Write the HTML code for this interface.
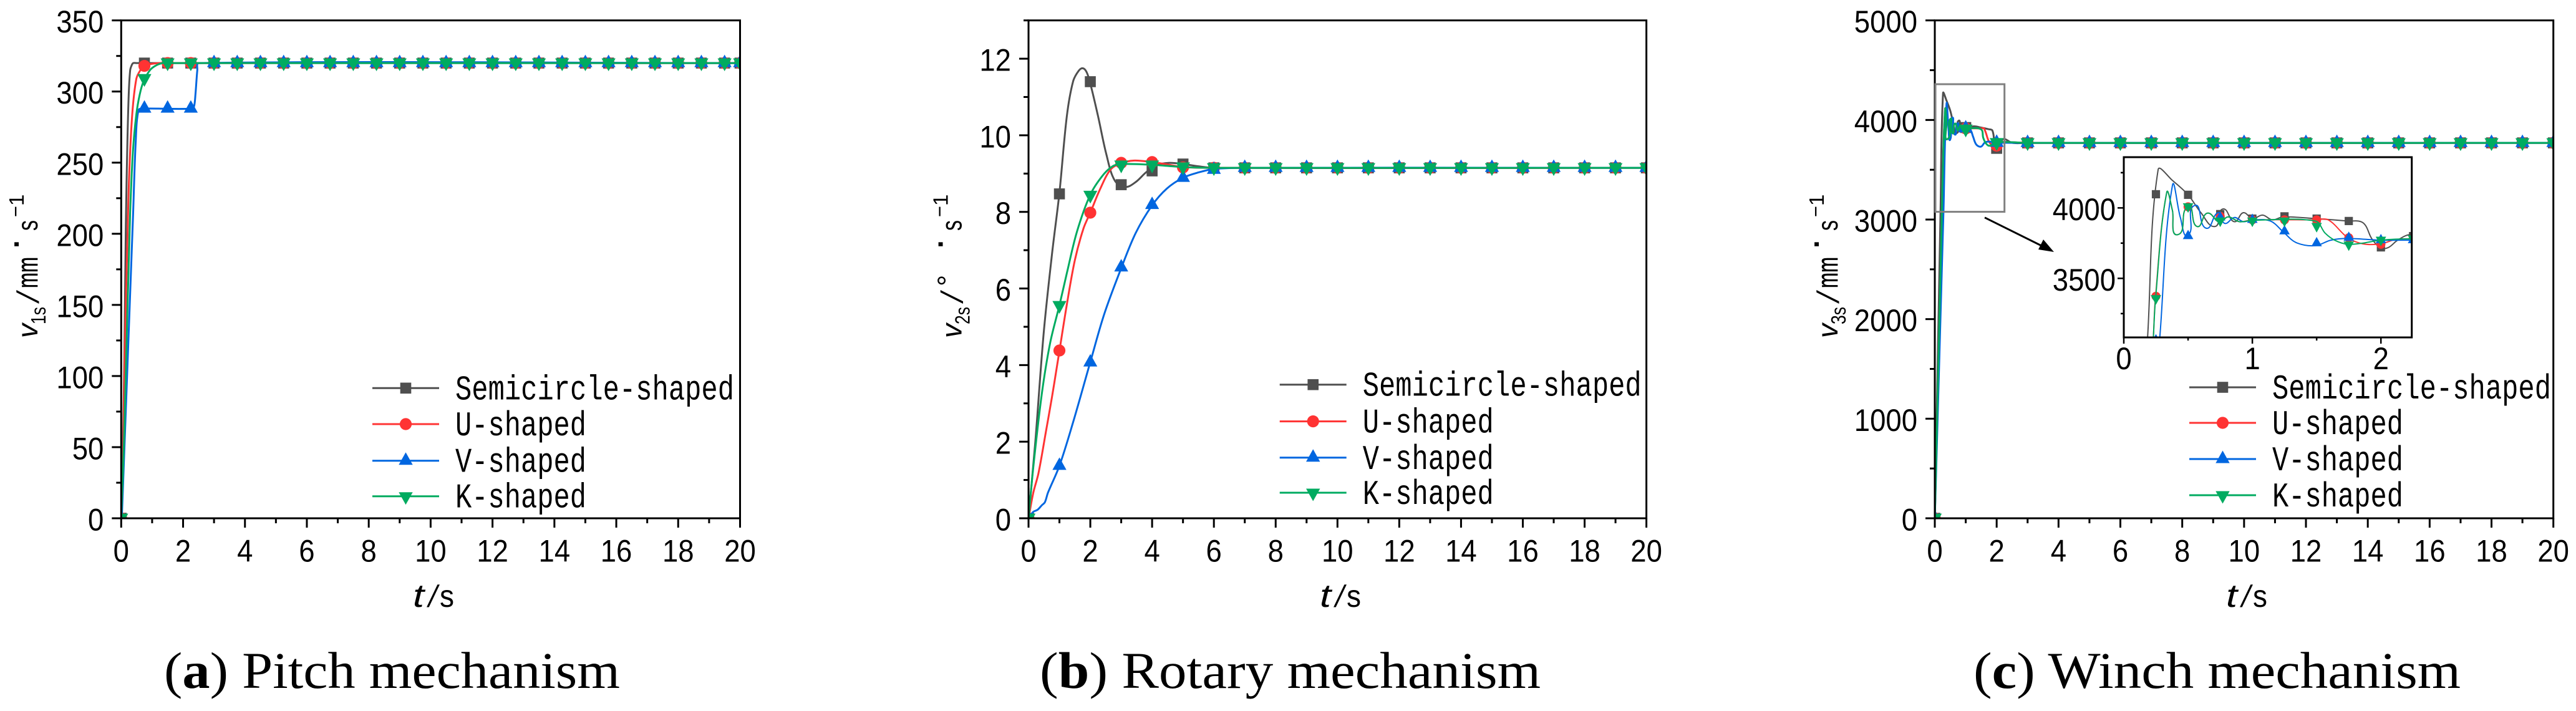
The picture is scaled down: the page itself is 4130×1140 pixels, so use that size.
<!DOCTYPE html>
<html lang="en">
<head>
<meta charset="utf-8">
<title>Velocity response of pitch, rotary and winch mechanisms</title>
<style>
html,body{margin:0;padding:0;background:#fff;}
body{width:4130px;height:1140px;overflow:hidden;}
svg{display:block;}
text{font-family:"Liberation Sans",sans-serif;fill:#000;}
.lg{font-family:"Liberation Mono",monospace;font-size:56px;}
.yt{font-size:46px;}
.sb{font-size:33px;}
.thick{stroke:#000;stroke-width:0.7px;}
.sl{font-family:"Liberation Serif",serif;font-size:54px;}
.cap{font-family:"Liberation Serif",serif;font-size:83px;}
</style>
</head>
<body>
<svg id="figure" xmlns="http://www.w3.org/2000/svg" width="4130" height="1140" viewBox="0 0 4130 1140">
<rect x="0" y="0" width="4130" height="1140" fill="#fff"/>
<g id="chart-a"></g>
<g id="chart-b"></g>
<g id="chart-c"></g>

<!-- y axis titles -->
<g transform="translate(60,542) rotate(-90)">
<text class="yt" font-style="italic" x="0" y="0">v</text>
<text class="sb" x="22" y="13" textLength="28" lengthAdjust="spacingAndGlyphs">1s</text>
<text class="sl" x="55" y="2" textLength="22" lengthAdjust="spacingAndGlyphs">/</text>
<text class="yt thick" x="80" y="0" textLength="50" lengthAdjust="spacingAndGlyphs">mm</text>
<text class="yt" font-weight="bold" x="144" y="-18">·</text>
<text class="yt" x="172" y="0" textLength="17" lengthAdjust="spacingAndGlyphs">s</text>
<text class="sb" x="194" y="-24" textLength="18" lengthAdjust="spacingAndGlyphs">−</text>
<text class="sb" x="212" y="-22">1</text>
</g>
<g transform="translate(1541.7,542) rotate(-90)">
<text class="yt" font-style="italic" x="0" y="0">v</text>
<text class="sb" x="22" y="13" textLength="28" lengthAdjust="spacingAndGlyphs">2s</text>
<text class="sl" x="55" y="2" textLength="22" lengthAdjust="spacingAndGlyphs">/</text>
<text class="yt" x="83" y="-6">°</text>
<text class="yt" font-weight="bold" x="144" y="-18">·</text>
<text class="yt" x="172" y="0" textLength="17" lengthAdjust="spacingAndGlyphs">s</text>
<text class="sb" x="194" y="-24" textLength="18" lengthAdjust="spacingAndGlyphs">−</text>
<text class="sb" x="212" y="-22">1</text>
</g>
<g transform="translate(2946,542) rotate(-90)">
<text class="yt" font-style="italic" x="0" y="0">v</text>
<text class="sb" x="22" y="13" textLength="28" lengthAdjust="spacingAndGlyphs">3s</text>
<text class="sl" x="55" y="2" textLength="22" lengthAdjust="spacingAndGlyphs">/</text>
<text class="yt thick" x="80" y="0" textLength="50" lengthAdjust="spacingAndGlyphs">mm</text>
<text class="yt" font-weight="bold" x="144" y="-18">·</text>
<text class="yt" x="172" y="0" textLength="17" lengthAdjust="spacingAndGlyphs">s</text>
<text class="sb" x="194" y="-24" textLength="18" lengthAdjust="spacingAndGlyphs">−</text>
<text class="sb" x="212" y="-22">1</text>
</g>

<!-- x axis titles -->
<g transform="translate(660,973)">
<text font-size="52" font-style="italic" x="2" y="0" textLength="18" lengthAdjust="spacingAndGlyphs">t</text>
<text class="sl" x="24" y="0" textLength="21" lengthAdjust="spacingAndGlyphs">/</text>
<text font-size="50" x="45" y="0" textLength="23" lengthAdjust="spacingAndGlyphs">s</text>
</g>
<g transform="translate(2114,973)">
<text font-size="52" font-style="italic" x="2" y="0" textLength="18" lengthAdjust="spacingAndGlyphs">t</text>
<text class="sl" x="24" y="0" textLength="21" lengthAdjust="spacingAndGlyphs">/</text>
<text font-size="50" x="45" y="0" textLength="23" lengthAdjust="spacingAndGlyphs">s</text>
</g>
<g transform="translate(3567,973)">
<text font-size="52" font-style="italic" x="2" y="0" textLength="18" lengthAdjust="spacingAndGlyphs">t</text>
<text class="sl" x="24" y="0" textLength="21" lengthAdjust="spacingAndGlyphs">/</text>
<text font-size="50" x="45" y="0" textLength="23" lengthAdjust="spacingAndGlyphs">s</text>
</g>

<!-- legends -->
<g transform="translate(597,0)">
<g transform="translate(0,622.3)"><line x1="0" x2="107" stroke="#4f4f4f" stroke-width="3"/><rect x="44.7" y="-8.8" width="17.6" height="17.6" fill="#4f4f4f"/><text class="lg" x="133" y="18" textLength="447" lengthAdjust="spacingAndGlyphs">Semicircle-shaped</text></g>
<g transform="translate(0,680)"><line x1="0" x2="107" stroke="#ff3333" stroke-width="3"/><circle cx="53.5" cy="0" r="9.6" fill="#ff3333"/><text class="lg" x="133" y="18" textLength="210" lengthAdjust="spacingAndGlyphs">U-shaped</text></g>
<g transform="translate(0,738.7)"><line x1="0" x2="107" stroke="#0066e0" stroke-width="3"/><polygon points="53.5,-13.5 64.7,6.5 42.3,6.5" fill="#0066e0"/><text class="lg" x="133" y="18" textLength="210" lengthAdjust="spacingAndGlyphs">V-shaped</text></g>
<g transform="translate(0,795.7)"><line x1="0" x2="107" stroke="#00ab60" stroke-width="3"/><polygon points="53.5,13.5 64.7,-6.5 42.3,-6.5" fill="#00ab60"/><text class="lg" x="133" y="18" textLength="210" lengthAdjust="spacingAndGlyphs">K-shaped</text></g>
</g>
<g transform="translate(2051.7,0)">
<g transform="translate(0,616.7)"><line x1="0" x2="107" stroke="#4f4f4f" stroke-width="3"/><rect x="44.7" y="-8.8" width="17.6" height="17.6" fill="#4f4f4f"/><text class="lg" x="133" y="18" textLength="447" lengthAdjust="spacingAndGlyphs">Semicircle-shaped</text></g>
<g transform="translate(0,675.6)"><line x1="0" x2="107" stroke="#ff3333" stroke-width="3"/><circle cx="53.5" cy="0" r="9.6" fill="#ff3333"/><text class="lg" x="133" y="18" textLength="210" lengthAdjust="spacingAndGlyphs">U-shaped</text></g>
<g transform="translate(0,733.8)"><line x1="0" x2="107" stroke="#0066e0" stroke-width="3"/><polygon points="53.5,-13.5 64.7,6.5 42.3,6.5" fill="#0066e0"/><text class="lg" x="133" y="18" textLength="210" lengthAdjust="spacingAndGlyphs">V-shaped</text></g>
<g transform="translate(0,790)"><line x1="0" x2="107" stroke="#00ab60" stroke-width="3"/><polygon points="53.5,13.5 64.7,-6.5 42.3,-6.5" fill="#00ab60"/><text class="lg" x="133" y="18" textLength="210" lengthAdjust="spacingAndGlyphs">K-shaped</text></g>
</g>
<g transform="translate(3510,0)">
<g transform="translate(0,621)"><line x1="0" x2="107" stroke="#4f4f4f" stroke-width="3"/><rect x="44.7" y="-8.8" width="17.6" height="17.6" fill="#4f4f4f"/><text class="lg" x="133" y="18" textLength="447" lengthAdjust="spacingAndGlyphs">Semicircle-shaped</text></g>
<g transform="translate(0,678)"><line x1="0" x2="107" stroke="#ff3333" stroke-width="3"/><circle cx="53.5" cy="0" r="9.6" fill="#ff3333"/><text class="lg" x="133" y="18" textLength="210" lengthAdjust="spacingAndGlyphs">U-shaped</text></g>
<g transform="translate(0,736)"><line x1="0" x2="107" stroke="#0066e0" stroke-width="3"/><polygon points="53.5,-13.5 64.7,6.5 42.3,6.5" fill="#0066e0"/><text class="lg" x="133" y="18" textLength="210" lengthAdjust="spacingAndGlyphs">V-shaped</text></g>
<g transform="translate(0,794)"><line x1="0" x2="107" stroke="#00ab60" stroke-width="3"/><polygon points="53.5,13.5 64.7,-6.5 42.3,-6.5" fill="#00ab60"/><text class="lg" x="133" y="18" textLength="210" lengthAdjust="spacingAndGlyphs">K-shaped</text></g>
</g>

<!-- zoom region and arrow in chart c -->
<rect x="3103" y="135" width="110.7" height="204.6" fill="none" stroke="#808080" stroke-width="3"/>
<line x1="3182" y1="348.8" x2="3275" y2="395" stroke="#000" stroke-width="3"/>
<polygon points="3293,404 3268,400 3276,384" fill="#000"/>
<g id="inset"></g>

<!-- captions -->
<text class="cap" x="263" y="1103" textLength="731" lengthAdjust="spacingAndGlyphs">(<tspan font-weight="bold">a</tspan>) Pitch mechanism</text>
<text class="cap" x="1667" y="1103" textLength="803" lengthAdjust="spacingAndGlyphs">(<tspan font-weight="bold">b</tspan>) Rotary mechanism</text>
<text class="cap" x="3164" y="1103" textLength="781" lengthAdjust="spacingAndGlyphs">(<tspan font-weight="bold">c</tspan>) Winch mechanism</text>
</svg>

<script>
// ---------- shared tick values ----------
const xMajorTicks = [0,2,4,6,8,10,12,14,16,18,20];
const xMinorTicks = [1,3,5,7,9,11,13,15,17,19];

// ---------- chart (a) pitch mechanism ----------
const aYMajor = [0,50,100,150,200,250,300,350];
const aYMinor = [25,75,125,175,225,275,325];
const aMarkT = [0,0.75,1.5,2.25,3,3.75,4.5,5.25,6,6.75,7.5,8.25,9,9.75,10.5,11.25,12,12.75,13.5,14.25,15,15.75,16.5,17.25,18,18.75,19.5,20];
const aMarkS = [0,320,320,320,320,320,320,320,320,320,320,320,320,320,320,320,320,320,320,320,320,320,320,320,320,320,320,320];
const aMarkU = [0,318,320,320,320,320,320,320,320,320,320,320,320,320,320,320,320,320,320,320,320,320,320,320,320,320,320,320];
const aMarkV = [0,288,288,288,320,320,320,320,320,320,320,320,320,320,320,320,320,320,320,320,320,320,320,320,320,320,320,320];
const aMarkK = [0,309,320,320,320,320,320,320,320,320,320,320,320,320,320,320,320,320,320,320,320,320,320,320,320,320,320,320];
const aLineTS = [0,0.05,0.1,0.15,0.19,0.24,0.29,0.34,0.39,0.5,20];
const aLineVS = [0,40,110,205,254,296,315,318.5,320,320,320];
const aLineTU = [0,0.06,0.12,0.19,0.256,0.357,0.49,0.62,0.75,1,1.33,20];
const aLineVU = [0,40,120,185,240,284,309,315,318,319.5,320,320];
const aLineTV = [0,0.02,0.38,0.47,0.56,0.7,2.3,2.36,2.4,2.46,2.5,20];
const aLineVV = [0,0,211,265,287,288,288,290,298,315,320,320];
const aLineTK = [0,0.1,0.2,0.288,0.38,0.49,0.6,0.72,0.93,1.1,1.33,1.6,20];
const aLineVK = [0,60,145,214,258,284,298,307,315,318,320,320,320];

// ---------- chart (b) rotary mechanism ----------
const bYMajor = [0,2,4,6,8,10,12];
const bYMinor = [1,3,5,7,9,11,13];
const bMarkT = [0,1,2,3,4,5,6,7,8,9,10,11,12,13,14,15,16,17,18,19,20];
const bMarkS = [0,8.47,11.4,8.71,9.07,9.25,9.15,9.15,9.15,9.15,9.15,9.15,9.15,9.15,9.15,9.15,9.15,9.15,9.15,9.15,9.15];
const bMarkU = [0,4.38,7.98,9.28,9.3,9.16,9.15,9.15,9.15,9.15,9.15,9.15,9.15,9.15,9.15,9.15,9.15,9.15,9.15,9.15,9.15];
const bMarkV = [0,1.37,4.07,6.55,8.18,8.89,9.1,9.15,9.15,9.15,9.15,9.15,9.15,9.15,9.15,9.15,9.15,9.15,9.15,9.15,9.15];
const bMarkK = [0,5.55,8.43,9.22,9.22,9.17,9.15,9.15,9.15,9.15,9.15,9.15,9.15,9.15,9.15,9.15,9.15,9.15,9.15,9.15,9.15];
const bLineTS = [0,0.22,0.49,0.76,1,1.24,1.44,1.62,1.76,1.88,2,2.25,2.52,2.79,3.13,3.47,3.8,4.14,4.55,5,5.5,6,20];
const bLineVS = [0,2,4.83,6.9,8.5,10.5,11.4,11.68,11.75,11.65,11.35,10.5,9.5,8.82,8.65,8.78,9.03,9.22,9.28,9.25,9.19,9.15,9.15];
const bLineTU = [0,0.155,0.32,0.56,0.76,1,1.24,1.5,1.78,2,2.32,2.66,3,3.4,4,4.55,5,6,20];
const bLineVU = [0,0.67,1.17,2.25,3.17,4.37,5.58,6.74,7.57,7.98,8.6,9.11,9.27,9.34,9.3,9.23,9.17,9.15,9.15];
const bLineTV = [0,0.155,0.29,0.43,0.53,0.63,1,1.44,2,2.45,3,3.47,4,4.48,5,5.5,6,7,20];
const bLineVV = [0,0.17,0.22,0.34,0.42,0.67,1.37,2.5,4.08,5.33,6.53,7.45,8.17,8.61,8.89,9.03,9.12,9.15,9.15];
const bLineTK = [0,0.155,0.43,0.7,1,1.24,1.57,2,2.39,2.72,3,4,5,6,20];
const bLineVK = [0,1.34,3.25,4.58,5.56,6.4,7.49,8.45,8.94,9.19,9.25,9.23,9.17,9.15,9.15];

// ---------- chart (c) winch mechanism ----------
const cYMajor = [0,1000,2000,3000,4000,5000];
const cYMinor = [500,1500,2500,3500,4500];
const cMarkT = [0,1,2,3,4,5,6,7,8,9,10,11,12,13,14,15,16,17,18,19,20];
const cMarkS = [0,3924,3715,3770,3770,3770,3770,3770,3770,3770,3770,3770,3770,3770,3770,3770,3770,3770,3770,3770,3770];
const cMarkU = [0,3915,3742,3770,3770,3770,3770,3770,3770,3770,3770,3770,3770,3770,3770,3770,3770,3770,3770,3770,3770];
const cMarkV = [0,3915,3771,3770,3770,3770,3770,3770,3770,3770,3770,3770,3770,3770,3770,3770,3770,3770,3770,3770,3770];
const cMarkK = [0,3907,3771,3770,3770,3770,3770,3770,3770,3770,3770,3770,3770,3770,3770,3770,3770,3770,3770,3770,3770];
const cLineTS = [0,0.185,0.267,0.378,0.5,0.6,0.71,0.77,0.86,0.93,1,1.08,1.155,1.24,1.49,1.74,1.86,1.93,2,2.06,2.13,2.23,2.5,3,20];
const cLineVS = [0,3081,4271,4195,4093,3966,3868,3992,3902,3966,3924,3949,3915,3936,3924,3907,3895,3780,3715,3720,3771,3810,3770,3770,3770];
const cLineTU = [0,0.23,0.247,0.334,0.378,0.42,0.5,0.57,0.65,0.745,0.81,0.9,1,1.49,1.59,1.74,1.86,2,2.11,2.23,3,20];
const cLineVU = [0,3081,3373,4110,3983,3810,4008,3868,3963,3898,3936,3902,3915,3915,3915,3790,3745,3745,3775,3780,3770,3770];
const cLineTV = [0,0.28,0.378,0.44,0.5,0.55,0.64,0.735,0.785,0.86,0.93,1,1.14,1.24,1.34,1.49,1.61,1.74,2,2.23,3,20];
const cLineVV = [0,3081,4158,3932,3805,4017,3856,3966,3890,3932,3902,3915,3907,3830,3754,3732,3771,3783,3771,3771,3770,3770];
const cLineTK = [0,0.23,0.247,0.334,0.378,0.42,0.5,0.57,0.65,0.745,0.81,0.9,1,1.49,1.565,1.64,1.74,1.85,2,2.23,3,20];
const cLineVK = [0,3081,3356,4110,3983,3810,4008,3868,3963,3898,3936,3902,3912,3907,3822,3771,3742,3749,3771,3780,3770,3770];

// ---------- inset of chart (c) ----------
const insetYMajor = [3500,4000];
const insetYMinor = [3250,3750,4250];
const insetXMajor = [0,1,2];
const insetXMinor = [0.5,1.5];
const insetMarkT = [0.25,0.5,0.75,1,1.25,1.5,1.75,2,2.25];
const insetMarkS = [4097,4093,3956,3924,3940,3924,3907,3720,3800];
const insetMarkU = [3373,4008,3940,3915,3915,3915,3788,3742,3780];
const insetMarkV = [3060,3800,3932,3915,3834,3749,3788,3771,3771];
const insetMarkK = [3356,4008,3907,3907,3907,3868,3737,3771,3780];

const GREY = '#4f4f4f', RED = '#ff3333', BLUE = '#0066e0', GREEN = '#00ab60';
const NS = 'http://www.w3.org/2000/svg';

function make(tag, parent) {
  const el = document.createElementNS(NS, tag);
  parent.appendChild(el);
  return el;
}

function linearScale(d0, d1, r0, r1) {
  return function (v) { return r0 + (v - d0) * (r1 - r0) / (d1 - d0); };
}

// chord-length cardinal spline through the data points
function curvePath(ts, vs, sx, sy) {
  const p = ts.map(function (t, i) { return [sx(t), sy(vs[i])]; });
  let d = 'M' + p[0][0].toFixed(2) + ' ' + p[0][1].toFixed(2);
  for (let i = 0; i < p.length - 1; i++) {
    const a = p[Math.max(i - 1, 0)], b = p[i], c = p[i + 1], e = p[Math.min(i + 2, p.length - 1)];
    const len = Math.hypot(c[0] - b[0], c[1] - b[1]);
    const l1 = Math.hypot(c[0] - a[0], c[1] - a[1]) || 1;
    const l2 = Math.hypot(e[0] - b[0], e[1] - b[1]) || 1;
    const c1x = b[0] + (c[0] - a[0]) / l1 * len / 3;
    const c1y = b[1] + (c[1] - a[1]) / l1 * len / 3;
    const c2x = c[0] - (e[0] - b[0]) / l2 * len / 3;
    const c2y = c[1] - (e[1] - b[1]) / l2 * len / 3;
    d += 'C' + c1x.toFixed(2) + ' ' + c1y.toFixed(2) + ' ' + c2x.toFixed(2) + ' ' + c2y.toFixed(2) + ' ' + c[0].toFixed(2) + ' ' + c[1].toFixed(2);
  }
  return d;
}

function drawLine(parent, ts, vs, sx, sy, color, width, seriesName) {
  const el = make('path', parent);
  
  
  el.setAttribute('d', curvePath(ts, vs, sx, sy));
  el.setAttribute('fill', 'none');
  el.setAttribute('stroke', color);
  el.setAttribute('stroke-width', width);
  el.setAttribute('stroke-linejoin', 'round');
}

function drawMarkers(parent, shape, ts, vs, sx, sy, color, k, seriesName) {
  ts.forEach(function (t, i) {
    const cx = sx(t), cy = sy(vs[i]);
    let el;
    if (shape === 'square') {
      el = make('rect', parent);
      el.setAttribute('x', cx - 8.8 * k);
      el.setAttribute('y', cy - 8.8 * k);
      el.setAttribute('width', 17.6 * k);
      el.setAttribute('height', 17.6 * k);
    } else if (shape === 'circle') {
      el = make('circle', parent);
      el.setAttribute('cx', cx);
      el.setAttribute('cy', cy);
      el.setAttribute('r', 9.6 * k);
    } else if (shape === 'up') {
      el = make('polygon', parent);
      el.setAttribute('points', cx + ',' + (cy - 13.5 * k) + ' ' + (cx + 11.2 * k) + ',' + (cy + 6.5 * k) + ' ' + (cx - 11.2 * k) + ',' + (cy + 6.5 * k));
    } else {
      el = make('polygon', parent);
      el.setAttribute('points', cx + ',' + (cy + 13 * k) + ' ' + (cx + 11.2 * k) + ',' + (cy - 7.5 * k) + ' ' + (cx - 11.2 * k) + ',' + (cy - 7.5 * k));
    }
    
    
    el.setAttribute('fill', color);
  });
}

function drawSeries(parent, spec, sx, sy, lineWidth, markScale) {
  spec.forEach(function (s) {
    if (s.lineT) drawLine(parent, s.lineT, s.lineV, sx, sy, s.color, lineWidth, s.name);
    drawMarkers(parent, s.shape, s.markT, s.markV, sx, sy, s.color, markScale, s.name);
  });
}

function drawTickX(parent, x, y, len, width, name) {
  const el = make('line', parent);
  
  
  el.setAttribute('x1', x); el.setAttribute('x2', x);
  el.setAttribute('y1', y); el.setAttribute('y2', y + len);
  el.setAttribute('stroke', '#000');
  el.setAttribute('stroke-width', width);
}
function drawTickY(parent, x, y, len, width, name) {
  const el = make('line', parent);
  
  
  el.setAttribute('x1', x - len); el.setAttribute('x2', x);
  el.setAttribute('y1', y); el.setAttribute('y2', y);
  el.setAttribute('stroke', '#000');
  el.setAttribute('stroke-width', width);
}
function drawLabel(parent, str, x, y, name) {
  const el = make('text', parent);
  
  
  el.setAttribute('x', x);
  el.setAttribute('y', y);
  el.setAttribute('font-size', '50');
  el.setAttribute('textLength', (str.length * 25.3).toFixed(1));
  el.setAttribute('lengthAdjust', 'spacingAndGlyphs');
  el.textContent = str;
}

function drawAxes(parent, box, sx, sy, xMaj, xMin, yMaj, yMin, xLabelY) {
  xMin.forEach(function (t) { drawTickX(parent, sx(t), box.bottom, 8, 3, 'x-minor-tick'); });
  xMaj.forEach(function (t) {
    drawTickX(parent, sx(t), box.bottom, 15, 3, 'x-major-tick');
    const s = String(t);
    drawLabel(parent, s, sx(t) - s.length * 12.65, xLabelY, 'x-tick-label');
  });
  yMin.forEach(function (v) { drawTickY(parent, box.left, sy(v), 8, 3, 'y-minor-tick'); });
  yMaj.forEach(function (v) {
    drawTickY(parent, box.left, sy(v), 15, 3, 'y-major-tick');
    const s = String(v);
    drawLabel(parent, s, box.left - 28 - s.length * 25.3, sy(v) + 19.5, 'y-tick-label');
  });
  const frame = make('rect', parent);
  
  
  frame.setAttribute('x', box.left);
  frame.setAttribute('y', box.top);
  frame.setAttribute('width', box.right - box.left);
  frame.setAttribute('height', box.bottom - box.top);
  frame.setAttribute('fill', 'none');
  frame.setAttribute('stroke', '#000');
  frame.setAttribute('stroke-width', 3);
}

function plotClip(root, id, box) {
  const cp = make('clipPath', root);
  cp.setAttribute('id', id);
  const r = make('rect', cp);
  r.setAttribute('x', box.left);
  r.setAttribute('y', box.top);
  r.setAttribute('width', box.right - box.left);
  r.setAttribute('height', box.bottom - box.top);
  const g = make('g', root);
  
  
  g.setAttribute('clip-path', 'url(#' + id + ')');
  return g;
}

function seriesSpec(t, mS, mU, mV, mK, lts, lvs, ltu, lvu, ltv, lvv, ltk, lvk) {
  return [
    { name: 'semicircle', shape: 'square', color: GREY, markT: t, markV: mS, lineT: lts, lineV: lvs },
    { name: 'u-shaped', shape: 'circle', color: RED, markT: t, markV: mU, lineT: ltu, lineV: lvu },
    { name: 'v-shaped', shape: 'up', color: BLUE, markT: t, markV: mV, lineT: ltv, lineV: lvv },
    { name: 'k-shaped', shape: 'down', color: GREEN, markT: t, markV: mK, lineT: ltk, lineV: lvk }
  ];
}

function drawChart(rootId, clipId, box, yMax, yMaj, yMin, spec) {
  const root = document.getElementById(rootId);
  const sx = linearScale(0, 20, box.left, box.right);
  const sy = linearScale(0, yMax, box.bottom, box.top);
  const plot = plotClip(root, clipId, box);
  drawSeries(plot, spec, sx, sy, 3, 1);
  drawAxes(root, box, sx, sy, xMajorTicks, xMinorTicks, yMaj, yMin, 900.5);
}

drawChart('chart-a', 'clip-a', { left: 194.3, right: 1186.5, top: 32.7, bottom: 831 }, 350, aYMajor, aYMinor,
  seriesSpec(aMarkT, aMarkS, aMarkU, aMarkV, aMarkK, aLineTS, aLineVS, aLineTU, aLineVU, aLineTV, aLineVV, aLineTK, aLineVK));
drawChart('chart-b', 'clip-b', { left: 1649, right: 2639.6, top: 32.7, bottom: 831 }, 13, bYMajor, bYMinor,
  seriesSpec(bMarkT, bMarkS, bMarkU, bMarkV, bMarkK, bLineTS, bLineVS, bLineTU, bLineVU, bLineTV, bLineVV, bLineTK, bLineVK));
drawChart('chart-c', 'clip-c', { left: 3102, right: 4093.7, top: 32.7, bottom: 831 }, 5000, cYMajor, cYMinor,
  seriesSpec(cMarkT, cMarkS, cMarkU, cMarkV, cMarkK, cLineTS, cLineVS, cLineTU, cLineVU, cLineTV, cLineVV, cLineTK, cLineVK));

// keep only the part of a line that falls inside the inset's window
function insetT(ts) {
  return ts.filter(function (t) { return t > 0 && t <= 3; });
}
function insetV(ts, vs) {
  return vs.filter(function (v, i) { return ts[i] > 0 && ts[i] <= 3; });
}

// inset shares the winch line data over a zoomed range
(function () {
  const root = document.getElementById('inset');
  const box = { left: 3405, right: 3866.7, top: 252, bottom: 541 };
  const sx = linearScale(0, 2.24, box.left, box.right);
  const sy = linearScale(3081, 4360, box.bottom, box.top);
  const bg = make('rect', root);
  
  
  bg.setAttribute('x', box.left);
  bg.setAttribute('y', box.top);
  bg.setAttribute('width', box.right - box.left);
  bg.setAttribute('height', box.bottom - box.top);
  bg.setAttribute('fill', '#fff');
  const plot = plotClip(root, 'clip-inset', box);
  const spec = seriesSpec(insetMarkT, insetMarkS, insetMarkU, insetMarkV, insetMarkK,
    insetT(cLineTS), insetV(cLineTS, cLineVS),
    insetT(cLineTU), insetV(cLineTU, cLineVU),
    insetT(cLineTV), insetV(cLineTV, cLineVV),
    insetT(cLineTK), insetV(cLineTK, cLineVK));
  drawSeries(plot, spec, sx, sy, 2, 0.75);
  insetXMinor.forEach(function (t) { drawTickX(root, sx(t), box.bottom, 5, 2.5, 'inset-x-minor-tick'); });
  insetXMajor.forEach(function (t) {
    drawTickX(root, sx(t), box.bottom, 10, 2.5, 'inset-x-major-tick');
    drawLabel(root, String(t), sx(t) - 12.65, 592, 'inset-x-tick-label');
  });
  insetYMinor.forEach(function (v) { drawTickY(root, box.left, sy(v), 5, 2.5, 'inset-y-minor-tick'); });
  insetYMajor.forEach(function (v) {
    drawTickY(root, box.left, sy(v), 10, 2.5, 'inset-y-major-tick');
    const s = String(v);
    drawLabel(root, s, box.left - 13 - s.length * 25.3, sy(v) + 19.5, 'inset-y-tick-label');
  });
  const frame = make('rect', root);
  
  
  frame.setAttribute('x', box.left);
  frame.setAttribute('y', box.top);
  frame.setAttribute('width', box.right - box.left);
  frame.setAttribute('height', box.bottom - box.top);
  frame.setAttribute('fill', 'none');
  frame.setAttribute('stroke', '#000');
  frame.setAttribute('stroke-width', 3);
})();
</script>
</body>
</html>
